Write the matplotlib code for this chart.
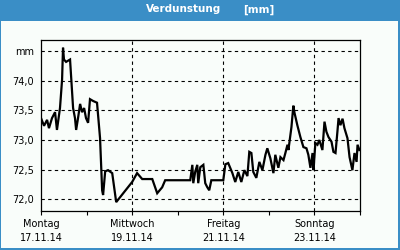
import matplotlib
matplotlib.use("Agg")
import matplotlib.pyplot as plt
from matplotlib.patches import Rectangle

# hours since Montag 17.11.14 00:00 and evaporation values [mm]
hours = [0, 1.6, 3.2, 4.2, 5.8, 7.4, 8.4, 10.0, 11.1, 11.6, 12.1, 13.2, 15.3, 16.9,
         17.9, 18.5, 19.5, 20.6, 21.6, 22.7, 23.7, 24.8, 25.8, 27.4, 29.5, 31.1,
         32.2, 32.7, 33.8, 35.3, 37.5, 39.6, 43.3, 48.0, 50.6, 53.3, 58.6, 61.2,
         63.8, 65.4, 78.6, 79.7, 80.2, 81.2, 82.3, 82.8, 83.9, 85.5, 86.5, 87.6,
         88.6, 89.7, 96.0, 97.1, 98.6, 100.8, 102.3, 103.9, 105.5, 107.1, 108.7,
         109.7, 110.8, 111.8, 113.4, 115.0, 116.6, 118.2, 119.2, 120.8, 122.4,
         123.4, 125.0, 126.1, 127.7, 128.7, 129.8, 130.3, 131.9, 132.9, 133.5,
         135.0, 136.6, 138.2, 139.8, 140.8, 141.9, 143.0, 143.5, 144.5, 145.6,
         146.6, 148.2, 149.3, 150.3, 151.4, 153.0, 154.0, 155.1, 156.1, 156.7,
         157.7, 158.8, 159.8, 161.4, 162.5, 164.0, 165.1, 166.2, 166.7, 167.7]
values = [73.37, 73.24, 73.34, 73.20, 73.37, 73.47, 73.17, 73.54, 74.02, 74.56,
          74.36, 74.32, 74.36, 73.54, 73.37, 73.17, 73.37, 73.61, 73.47, 73.54,
          73.37, 73.29, 73.69, 73.66, 73.63, 73.03, 72.15, 72.07, 72.47, 72.49,
          72.44, 71.95, 72.10, 72.29, 72.44, 72.34, 72.34, 72.10, 72.20, 72.32,
          72.32, 72.58, 72.27, 72.46, 72.58, 72.27, 72.54, 72.58, 72.27, 72.20,
          72.15, 72.32, 72.32, 72.59, 72.61, 72.44, 72.29, 72.46, 72.29, 72.49,
          72.39, 72.80, 72.78, 72.46, 72.36, 72.63, 72.49, 72.75, 72.86, 72.69,
          72.44, 72.75, 72.53, 72.71, 72.66, 72.78, 72.92, 72.83, 73.22, 73.58,
          73.46, 73.25, 73.05, 72.88, 72.86, 72.75, 72.53, 72.78, 72.49, 72.95,
          72.92, 73.00, 72.83, 73.31, 73.14, 73.05, 72.97, 72.80, 72.78, 73.14,
          73.37, 73.25, 73.36, 73.20, 73.03, 72.71, 72.49, 72.78, 72.63, 72.92,
          72.83]

x_ticks = [0, 48, 96, 144]
x_labels = ["Montag\n17.11.14", "Mittwoch\n19.11.14", "Freitag\n21.11.14", "Sonntag\n23.11.14"]
x_minor = [24, 72, 120, 168]
y_ticks = [72.0, 72.5, 73.0, 73.5, 74.0, 74.5]
y_labels = ["72,0", "72,5", "73,0", "73,5", "74,0", "mm"]

blue = "#3A8EC6"
fig = plt.figure(figsize=(4, 2.5), dpi=100, facecolor=blue)
# white panel below the title band
fig.patches.append(Rectangle((1 / 400, 2 / 250), 397 / 400, 227 / 250,
                             transform=fig.transFigure, facecolor="#F9FDFA",
                             edgecolor="none", zorder=-1))
fig.text(0.458, 0.962, "Verdunstung", color="white", fontsize=7.5,
         fontweight="bold", ha="center", va="center")
fig.text(0.648, 0.962, "[mm]", color="white", fontsize=7.5,
         fontweight="bold", ha="center", va="center")

ax = fig.add_axes([41 / 400, 1 - 211 / 250, 319 / 400, 171 / 250])
ax.set_zorder(2)
ax.set_facecolor("#F9FDFA")
ax.plot(hours, values, color="black", lw=1.6, solid_joinstyle="miter")

ax.set_xlim(0, 168)
ax.set_ylim(71.8, 74.69)
ax.set_xticks(x_ticks)
ax.set_xticklabels(x_labels, fontsize=7, linespacing=1.5)
ax.set_xticks(x_minor, minor=True)
ax.set_yticks(y_ticks)
ax.set_yticklabels(y_labels, fontsize=7)
ax.tick_params(axis="x", which="both", direction="out", length=3, width=0.8, pad=3)
ax.tick_params(axis="y", length=0, pad=5)

for v in y_ticks:
    ax.axhline(v, color="black", lw=0.8, dashes=(3, 3), zorder=1)
for h in x_ticks[1:]:
    ax.axvline(h, color="black", lw=0.8, dashes=(3, 3), zorder=1)

for s in ax.spines.values():
    s.set_linewidth(0.9)

fig.savefig("out.png", dpi=100, facecolor=blue)
